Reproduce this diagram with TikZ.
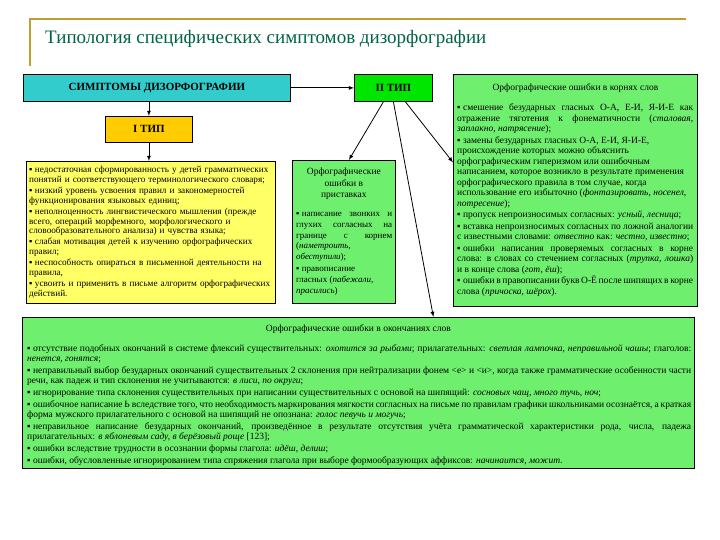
\documentclass[tikz,border=0pt]{standalone}
\usepackage{fontspec}
\setmainfont{Liberation Serif}

\definecolor{titlegreen}{RGB}{0,100,70}
\definecolor{goldline}{RGB}{190,160,50}
\definecolor{symcyan}{RGB}{51,204,204}
\definecolor{typetwo}{RGB}{0,230,0}
\definecolor{typeone}{RGB}{255,204,0}
\definecolor{paleyellow}{RGB}{255,255,102}
\definecolor{palegreen}{RGB}{110,240,110}

\newcommand\mk{▪\hspace{2.5pt}}

\tikzset{
  frame/.style={draw=black, line width=0.8pt, rectangle, inner sep=0pt, anchor=north west},
  head/.style={frame, font=\fontsize{11}{12}\selectfont\bfseries},
  body/.style={anchor=north west, inner sep=0pt, align=justify,
    font=\fontsize{9.5}{10.5}\selectfont,
    execute at begin node={\tolerance=9999\emergencystretch=1em\setlength\parskip{1pt}}},
  caption/.style={inner sep=0pt, font=\fontsize{9.5}{10}\selectfont},
  link/.style={-latex, line width=0.8pt}
}

\begin{document}
\begin{tikzpicture}[x=1pt, y=-1pt]
    \useasboundingbox (0,0) rectangle (720,540);

    % Title and its gold corner
    \draw[goldline, line width=2pt] (30,66) -- (30,19) -- (686,19);
    \node[anchor=base west, inner sep=0pt, font=\fontsize{19}{22}\selectfont, text=titlegreen]
      (title) at (45,44) {Типология специфических симптомов дизорфографии};

    % Heading boxes
    \node[head, fill=symcyan, minimum width=267pt, minimum height=27pt] (symptoms) at (23,74) {СИМПТОМЫ ДИЗОРФОГРАФИИ};
    \node[head, fill=typetwo, minimum width=78pt, minimum height=27pt] (typetwo) at (354,74) {II ТИП};
    \node[head, fill=typeone, minimum width=87pt, minimum height=26pt] (typeone) at (105,116) {I ТИП};

    % I type: yellow box
    \node[frame, fill=paleyellow, minimum width=249pt, minimum height=142pt] (typeonebox) at (26,161) {};
    \node[body, align=left, text width=243pt, font=\fontsize{9.2}{9.9}\selectfont]
      (typeonetext) at ([shift={(3,5)}]typeonebox.north west) {%
\mk недостаточная сформированность у детей грамматических понятий и соответствующего терминологического словаря;\par
\mk низкий уровень усвоения правил и закономерностей функционирования языковых единиц;\par
\mk неполноценность лингвистического мышления (прежде всего, операций морфемного, морфологического и словообразовательного анализа) и чувства языка;\par
\mk слабая мотивация детей к изучению орфографических правил;\par
\mk неспособность опираться в письменной деятельности на правила,\par
\mk усвоить и применить в письме алгоритм орфографических действий.};

    % II type: prefixes
    \node[frame, fill=palegreen, minimum width=103pt, minimum height=143pt] (prefixbox) at (292,160) {};
    \node[caption, anchor=north, align=center, font=\fontsize{9.5}{11.5}\selectfont]
      (prefixtitle) at ([yshift=-8pt]prefixbox.north) {Орфографические\\ошибки в\\приставках};
    \node[body, text width=96pt, font=\fontsize{9}{10.8}\selectfont]
      (prefixtext) at ([shift={(4,52)}]prefixbox.north west) {%
\mk написание звонких и\linebreak глухих согласных на\linebreak границе с корнем\linebreak
(\textit{наметроить,}\newline \textit{обеступили});\par
{\raggedright\mk правописание\newline гласных (\textit{пабежали,}\newline \textit{прасились})\par}};

    % II type: roots
    \node[frame, fill=palegreen, minimum width=244pt, minimum height=232pt] (rootsbox) at (453,74) {};
    \node[caption] (rootstitle) at ([yshift=-14pt]rootsbox.north) {Орфографические ошибки в корнях слов};
    \node[body, text width=236pt]
      (rootstext) at ([shift={(4,30)}]rootsbox.north west) {%
\mk смешение безударных гласных О-А, Е-И, \mbox{Я-И-Е} как отражение тяготения к фонематичности (\textit{сталовая, заплакно, натрясение});\par
{\raggedright\mk замены безударных гласных О-А, Е-И, \mbox{Я-И-Е,}\newline
происхождение которых можно объяснить\newline
орфографическим гиперизмом или ошибочным\newline
написанием, которое возникло в результате применения\newline
орфографического правила в том случае, когда\newline
использование его избыточно (\textit{фонтазировать, носенел,}\newline
\textit{потресение});\par}
\mk пропуск непроизносимых согласных: \textit{усный, лесница};\par
\mk вставка непроизносимых согласных по ложной аналогии с известными словами: \textit{отвестно} как: \textit{честно, известно};\par
\mk ошибки написания проверяемых согласных в корне слова: в словах со стечением согласных (\textit{трупка, лошка}) и в конце слова (\textit{гот, ёш});\par
\mk ошибки в правописании букв О-Ё после шипящих в корне слова (\textit{причоска, шёрох}).};

    % II type: endings
    \node[frame, fill=palegreen, minimum width=672pt, minimum height=151pt] (endingsbox) at (22,317) {};
    \node[caption] (endingstitle) at ([yshift=-12pt]endingsbox.north) {Орфографические ошибки в окончаниях слов};
    \node[body, text width=664pt, font=\fontsize{9.5}{10}\selectfont,
      execute at begin node={\tolerance=9999\emergencystretch=1em\setlength\parskip{2pt}}]
      (endingstext) at ([shift={(5,27)}]endingsbox.north west) {%
\mk отсутствие подобных окончаний в системе флексий существительных: \textit{охотится за рыбами}; прилагательных: \textit{светлая лампочка, неправильной чашы}; глаголов: \textit{ненется, гонятся};\par
\mk неправильный выбор безударных окончаний существительных 2 склонения при нейтрализации фонем <е> и <и>, когда также грамматические особенности части речи, как падеж и тип склонения не учитываются: \textit{в лиси, по округи};\par
\mk игнорирование типа склонения существительных при написании существительных с основой на шипящий: \textit{сосновых чащ, много тучь, ноч};\par
\mk ошибочное написание Ь вследствие того, что необходимость маркирования мягкости согласных на письме по правилам графики школьниками осознаётся, а краткая форма мужского прилагательного с основой на шипящий не опознана: \textit{голос певучь и могучь};\par
\mk неправильное написание безударных окончаний, произведённое в результате отсутствия учёта грамматической характеристики рода, числа, падежа прилагательных: \textit{в яблоневым саду, в берёзовый роще} [123];\par
\mk ошибки вследствие трудности в осознании формы глагола: \textit{идёш, делиш};\par
\mk ошибки, обусловленные игнорированием типа спряжения глагола при выборе формообразующих аффиксов: \textit{начинаится, можит}.};

    % Connectors
    \draw[link] (symptoms.east) -- (typetwo.west);
    \draw[link] (symptoms.south -| typeone.north) -- (typeone.north);
    \draw[link] (typeone.south) -- (typeonebox.north -| typeone.south);
    \draw[link] ([xshift=-10pt]typetwo.south) -- ([xshift=5pt]prefixbox.north);
    \draw[link] (typetwo.south) -- ([xshift=75pt]endingsbox.north);
    \draw[link] ([xshift=12pt]typetwo.south) -- ([yshift=28pt]rootsbox.west);
\end{tikzpicture}
\end{document}
